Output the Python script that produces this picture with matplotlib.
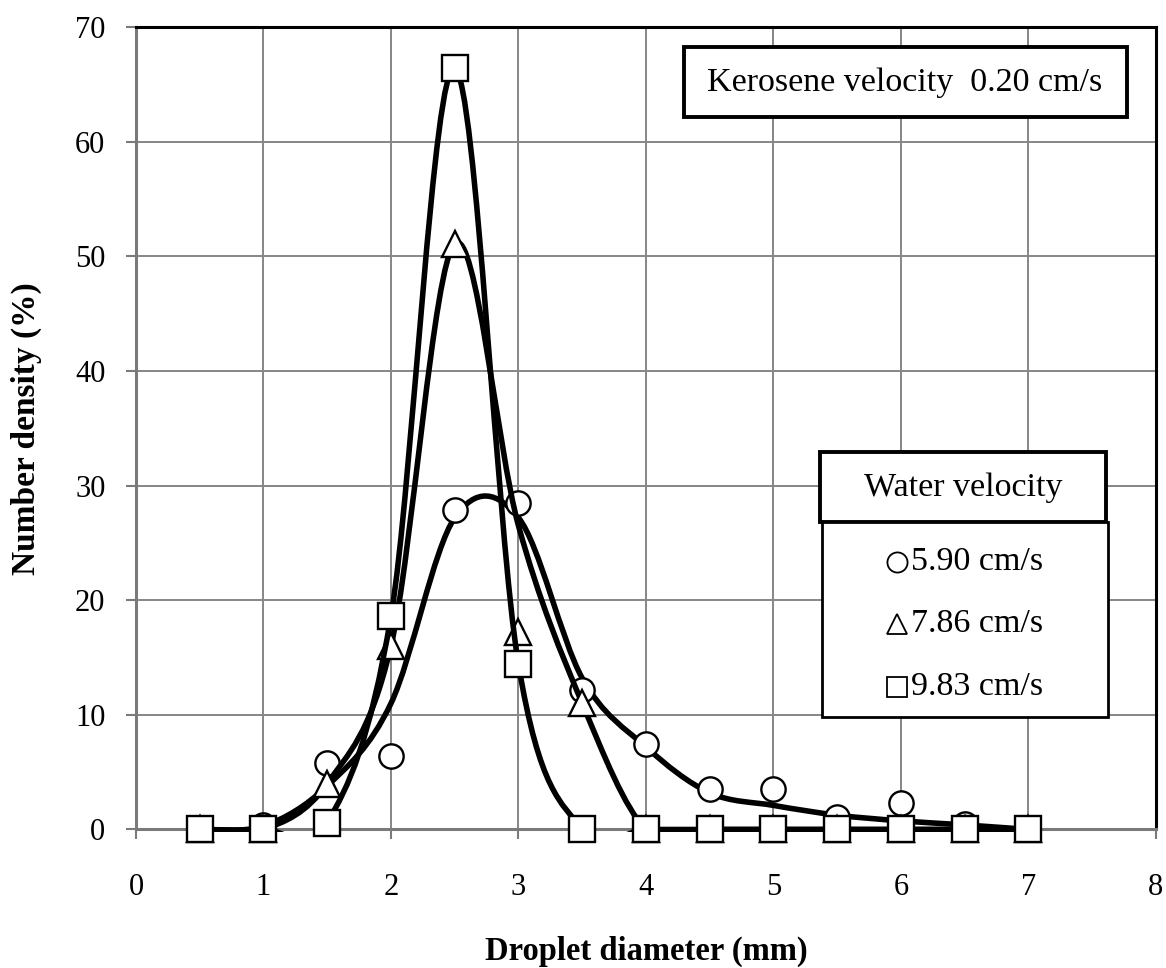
import numpy as np
import matplotlib
matplotlib.use("Agg")
import matplotlib.pyplot as plt
from matplotlib.path import Path
from matplotlib.patches import PathPatch, Rectangle
from matplotlib.lines import Line2D

plt.rcParams["font.family"] = ["Liberation Serif", "DejaVu Serif"]

# Droplet diameter (mm)
diameter = [0.5, 1.0, 1.5, 2.0, 2.5, 3.0, 3.5, 4.0, 4.5, 5.0, 5.5, 6.0, 6.5, 7.0]

# Measured number density (%) for each water velocity
dens_590 = [0, 0.4, 5.8, 6.4, 27.9, 28.5, 12.2, 7.5, 3.5, 3.5, 1.1, 2.3, 0.5, 0]
dens_786 = [0, 0, 4.0, 16.0, 51.1, 17.2, 11.0, 0, 0, 0, 0, 0, 0, 0]
dens_983 = [0, 0, 0.6, 18.6, 66.4, 14.4, 0, 0, 0, 0, 0, 0, 0, 0]

# Smoothed trend lines, values at the same diameters
curve_590 = [0, 0.3, 3.8, 11.0, 27.2, 27.2, 13.2, 7.2, 3.2, 2.1, 1.25, 0.75, 0.4, 0]
curve_786 = [0, 0, 4.0, 16.0, 51.1, 26.5, 11.0, 0, 0, 0, 0, 0, 0, 0]
curve_983 = [0, 0, 0.6, 18.6, 66.4, 14.4, 0, 0, 0, 0, 0, 0, 0, 0]

labels = ["5.90 cm/s", "7.86 cm/s", "9.83 cm/s"]
markers = ["o", "^", "s"]
marker_sizes = [17.5, 19, 18.5]

W, H = 1166, 968


def smooth_path(x, y):
    # Excel-like smoothed line: Bezier segments with Catmull-Rom control points
    pts = np.column_stack([x, y]).astype(float)
    ext = np.vstack([pts[0], pts, pts[-1]])
    verts = [pts[0]]
    codes = [Path.MOVETO]
    for i in range(len(pts) - 1):
        p0, p1, p2, p3 = ext[i], ext[i + 1], ext[i + 2], ext[i + 3]
        verts += [p1 + (p2 - p0) / 6, p2 - (p3 - p1) / 6, p2]
        codes += [Path.CURVE4] * 3
    return Path(verts, codes)


def fig_xy(px, py):
    return px / W, 1 - py / H


fig = plt.figure(figsize=(W / 100, H / 100), dpi=100)
ax = fig.add_axes([0.1166, 0.1431, 0.8748, 0.829])

ax.set_xlim(0, 8)
ax.set_ylim(0, 70)
ax.set_xticks(range(0, 9))
ax.set_yticks(range(0, 71, 10))
ax.grid(True, color="#868686", lw=1.4)
ax.set_axisbelow(True)

for side in ["top", "right"]:
    ax.spines[side].set_color("black")
    ax.spines[side].set_linewidth(2.2)
for side in ["left", "bottom"]:
    ax.spines[side].set_color("#7a7a7a")
    ax.spines[side].set_linewidth(2.2)

ax.tick_params(direction="out", length=7, width=1.5, color="#7a7a7a", labelsize=22)
ax.tick_params(axis="x", pad=24)
ax.tick_params(axis="y", pad=15)

clip = Rectangle((0, -0.25), 8, 70.25, transform=ax.transData)

series = [
    (dens_590, curve_590),
    (dens_786, curve_786),
    (dens_983, curve_983),
]
for i, (pts, curve) in enumerate(series):
    z = 3 + 2 * i
    patch = PathPatch(smooth_path(diameter, curve), fill=False, ec="black",
                      lw=4.0, zorder=z, joinstyle="round", capstyle="round",
                      clip_on=True)
    ax.add_patch(patch)
    patch.set_clip_path(clip)
    ax.plot(diameter, pts, ls="none", marker=markers[i], ms=marker_sizes[i],
            mfc="white", mec="black", mew=1.7, zorder=z + 1, clip_on=False)

ax.set_xlabel("Droplet diameter (mm)", fontsize=23.5, fontweight="bold")
ax.xaxis.set_label_coords(0.5, -0.133)
ax.set_ylabel("Number density (%)", fontsize=24, fontweight="bold")
ax.yaxis.set_label_coords(-0.092, 0.5)


def box(x0, y0, x1, y1, lw=2.4):
    fx0, fy1 = fig_xy(x0, y1)
    fx1, fy0 = fig_xy(x1, y0)
    fig.add_artist(Rectangle((fx0, fy1), fx1 - fx0, fy0 - fy1,
                             transform=fig.transFigure, fc="white",
                             ec="black", lw=lw, zorder=5))


# Kerosene velocity note
box(684, 47, 1127, 117, lw=2.8)
fig.text(*fig_xy(905, 83), "Kerosene velocity  0.20 cm/s", fontsize=24.5,
         ha="center", va="center", zorder=6)

# Water velocity legend
box(820, 452, 1106, 522, lw=2.8)
box(822, 522, 1108, 717, lw=2.0)
fig.text(*fig_xy(963, 488), "Water velocity", fontsize=24.5,
         ha="center", va="center", zorder=6)
for label, m, py in zip(labels, markers, [562, 624, 687]):
    fx, fy = fig_xy(897, py)
    fig.add_artist(Line2D([fx], [fy], transform=fig.transFigure, marker=m,
                          ms=14.5, mfc="white", mec="black", mew=1.3, zorder=6))
    fig.text(*fig_xy(911, py), label, fontsize=24.5, ha="left", va="center",
             zorder=6)

fig.savefig("out.png", dpi=100)
